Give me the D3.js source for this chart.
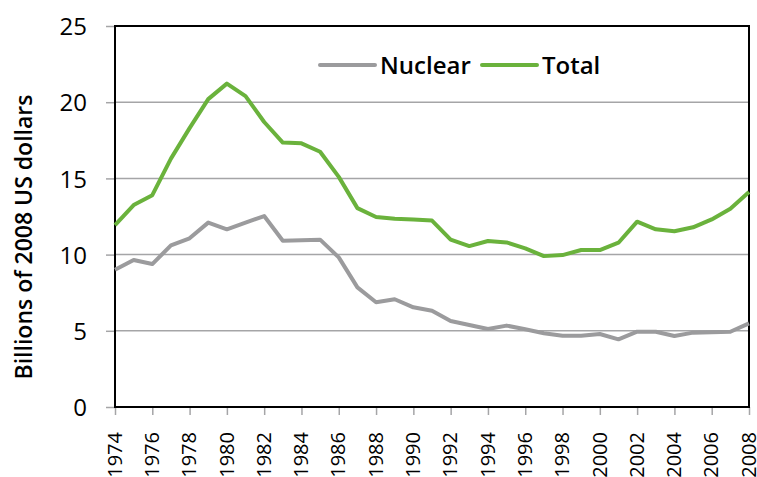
<!DOCTYPE html>
<html><head><meta charset="utf-8">
<script src="https://cdn.jsdelivr.net/npm/d3@7"></script>
<style>
body{margin:0;background:#fff;}
text{font-family:"Open Sans","DejaVu Sans Condensed",sans-serif;fill:#000;}
</style></head>
<body><svg id="c" width="757" height="477"></svg>
<script>
const years = d3.range(1974, 2009);
const nuclear = [9.0,9.65,9.38,10.6,11.07,12.1,11.66,12.1,12.53,10.91,10.94,10.98,9.82,7.85,6.87,7.07,6.54,6.32,5.64,5.38,5.12,5.34,5.1,4.84,4.68,4.68,4.79,4.44,4.94,4.94,4.66,4.88,4.9,4.94,5.49];
const total = [11.94,13.25,13.9,16.3,18.3,20.2,21.22,20.4,18.7,17.35,17.3,16.75,15.1,13.05,12.47,12.35,12.3,12.23,10.98,10.56,10.89,10.8,10.41,9.9,9.97,10.3,10.3,10.78,12.16,11.66,11.53,11.79,12.31,13.01,14.1];
const yTicks = [0,5,10,15,20,25];
const xTicks = d3.range(1974, 2009, 2);
const seriesNames = ["Nuclear","Total"];
const colors = ["#9b9b9d","#6ab23c"];

const svg = d3.select("#c");
const m = {l:115, r:749, t:26, b:407};
const x = d3.scaleLinear().domain([1974,2008]).range([m.l,m.r]);
const y = d3.scaleLinear().domain([0,25]).range([m.b,m.t]);

// gridlines
svg.append("g").selectAll("line").data(yTicks.filter(d=>d>0&&d<25)).join("line")
  .attr("x1",m.l).attr("x2",m.r).attr("y1",d=>y(d)).attr("y2",d=>y(d))
  .attr("stroke","#a5a5a7").attr("stroke-width",1.5);

// y axis
const ya = svg.append("g").attr("transform",`translate(${m.l},0)`)
  .call(d3.axisLeft(y).tickValues(yTicks).tickSize(9).tickPadding(19));
ya.select(".domain").remove();
ya.selectAll(".tick line").attr("stroke","#a5a5a7").attr("stroke-width",1.5);
ya.selectAll(".tick text").attr("font-size",24).attr("font-family",null)
  .style("font-weight",500).style("font-stretch","90%").attr("dy","0.36em");

// x axis
const xa = svg.append("g").attr("transform",`translate(0,${m.b})`)
  .call(d3.axisBottom(x).tickValues(xTicks).tickFormat(d3.format("d")).tickSize(8));
xa.select(".domain").remove();
xa.selectAll(".tick line").attr("stroke","#a5a5a7").attr("stroke-width",1.5);
xa.selectAll(".tick text").attr("font-size",20).attr("font-family",null)
  .style("font-weight",500).style("font-stretch","88%")
  .attr("transform","rotate(-90)").attr("text-anchor","end")
  .attr("x",-25).attr("y",-1).attr("dy","0.36em");

// frame
svg.append("rect").attr("x",m.l).attr("y",m.t).attr("width",m.r-m.l).attr("height",m.b-m.t)
  .attr("fill","none").attr("stroke","#000").attr("stroke-width",2);

// lines
const line = d3.line().x((d,i)=>x(years[i])).y(d=>y(d));
[nuclear,total].forEach((s,i)=>{
  svg.append("path").datum(s).attr("d",line).attr("fill","none")
    .attr("stroke",colors[i]).attr("stroke-width",4).attr("stroke-linejoin","round");
});

// legend
const lg = [{n:seriesNames[0],c:colors[0],x:320},{n:seriesNames[1],c:colors[1],x:482}];
lg.forEach(d=>{
  svg.append("line").attr("x1",d.x).attr("x2",d.x+55).attr("y1",65).attr("y2",65)
    .attr("stroke",d.c).attr("stroke-width",4).attr("stroke-linecap","round");
  svg.append("text").attr("x",d.x+60).attr("y",65).attr("dy","0.36em")
    .attr("font-size",24).style("font-weight",600).style("font-stretch","88%").text(d.n);
});

// y title
svg.append("text").attr("transform","translate(24,237) rotate(-90)")
  .attr("text-anchor","middle").attr("dy","0.36em").attr("font-size",23)
  .style("font-weight",600).style("font-stretch","88%")
  .text("Billions of 2008 US dollars");
</script></body></html>
